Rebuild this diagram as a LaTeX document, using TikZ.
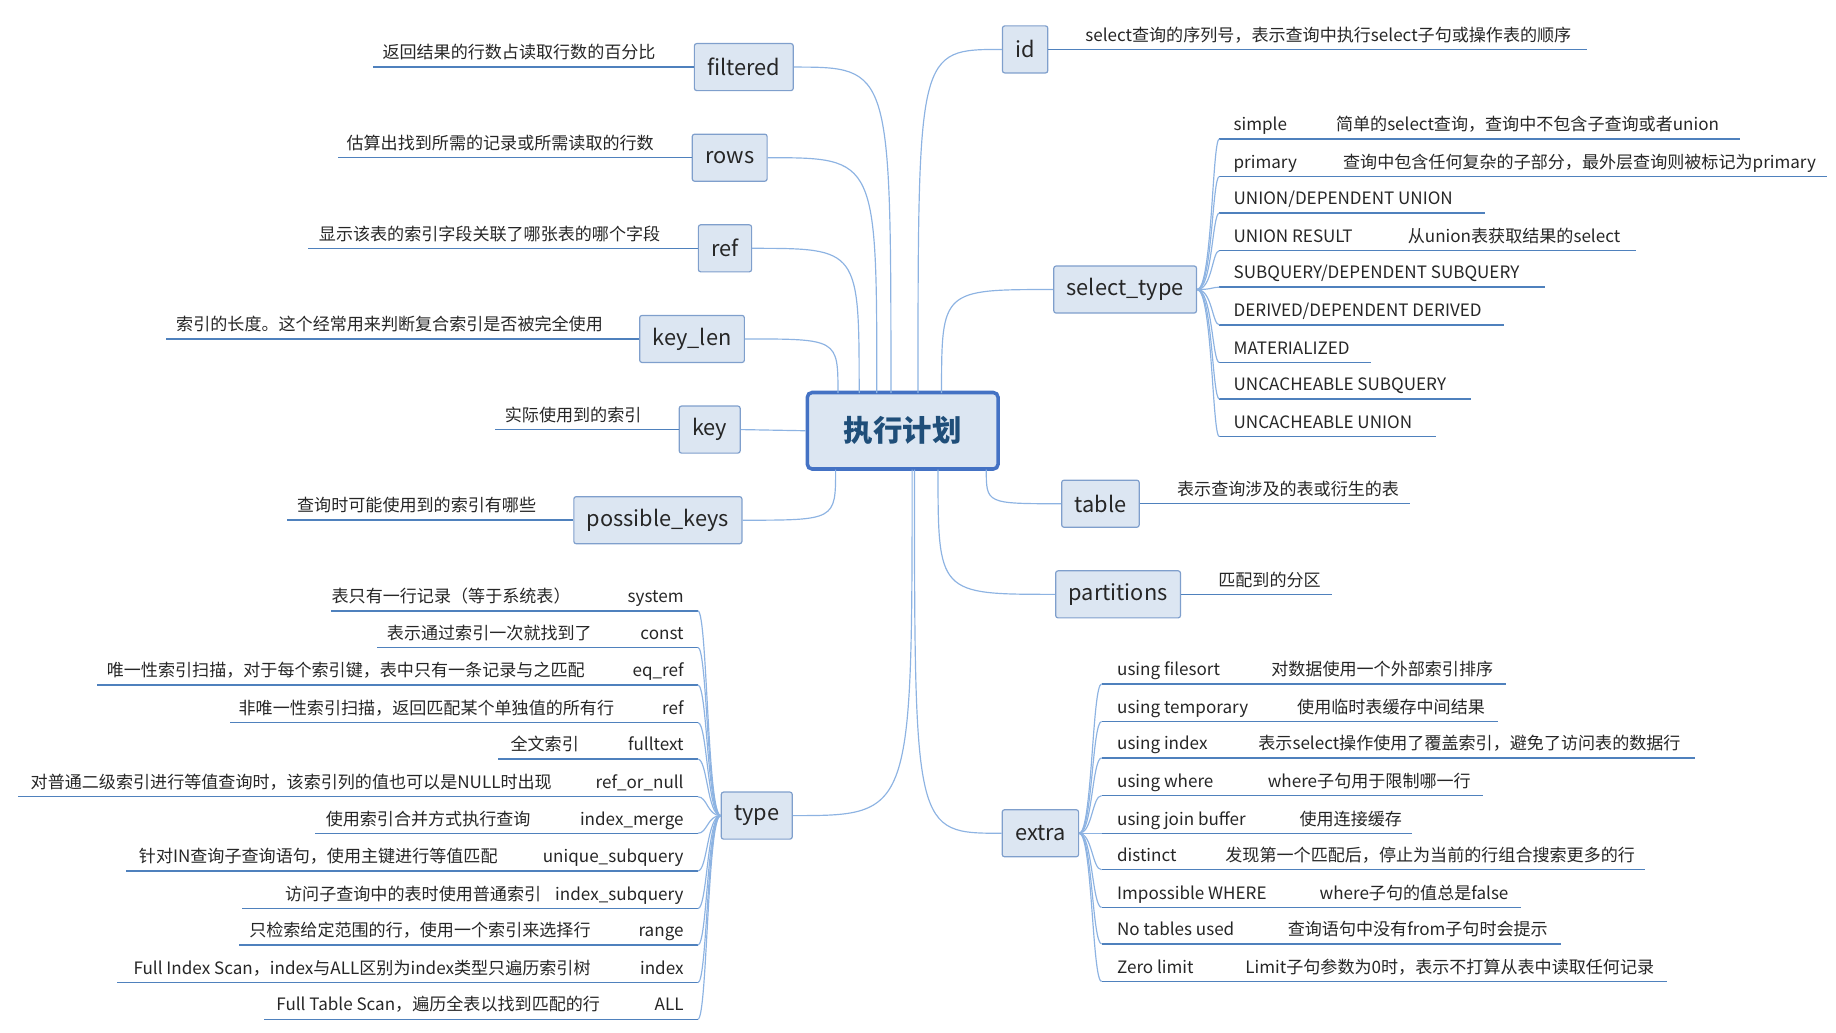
\documentclass[tikz,border=0pt]{standalone}
\usepackage{fontspec}
\setmainfont{Noto Sans CJK SC}
\definecolor{lineblue}{HTML}{4F81BD}
\definecolor{connblue}{HTML}{8DB3E2}
\definecolor{boxfill}{HTML}{DCE6F2}
\definecolor{boxdraw}{HTML}{7F9FCC}
\definecolor{rootdraw}{HTML}{4472C4}
\definecolor{roottext}{HTML}{1F4E79}
\tikzset{
  topic/.style={draw=boxdraw,fill=boxfill,rounded corners=2pt,line width=1pt,
    minimum height=40pt,inner xsep=11pt,font=\fontsize{18.5}{21}\selectfont,text=black!85},
  leaf/.style={font=\fontsize{14.5}{17}\selectfont,inner sep=0pt,text=black!85},
  uline/.style={draw=lineblue,line width=1.2pt},
  conn/.style={draw=connblue,line width=1pt}
}
\begin{document}
\begin{tikzpicture}[x=1pt,y=-1pt]
    \useasboundingbox (0,0) rectangle (1560,877);
    % Zentrum
    \node[topic,draw=rootdraw,line width=3pt,rounded corners=4pt,minimum width=162pt,minimum height=65pt,
      font=\fontsize{25}{29}\selectfont\bfseries,text=roottext] (root) at (767,366) {执行计划};
    % Hauptzweige links
    \node[topic] (filtered) at (632,57) {filtered};
    \node[topic] (rows) at (620,134) {rows};
    \node[topic] (ref) at (616,211) {ref};
    \node[topic] (keylen) at (588,288) {key\_len};
    \node[topic] (key) at (603,365) {key};
    \node[topic] (posskeys) at (559,442) {possible\_keys};
    \node[topic] (type) at (643,693) {type};
    % Hauptzweige rechts
    \node[topic] (id) at (871,42) {id};
    \node[topic] (seltype) at (956,246) {select\_type};
    \node[topic] (table) at (935,428) {table};
    \node[topic] (partitions) at (950,505) {partitions};
    \node[topic] (extra) at (884,708) {extra};
    % Startpunkte
    \coordinate (sFil) at (757,334);
    \coordinate (sRow) at (745,334);
    \coordinate (sRef) at (730,334);
    \coordinate (sKey) at (712,334);
    \coordinate (sPos) at (710,399);
    \coordinate (sTyp) at (775,399);
    \coordinate (sId) at (780,334);
    \coordinate (sSel) at (800,334);
    \coordinate (sTab) at (838,399);
    \coordinate (sPar) at (797,399);
    \coordinate (sExt) at (777,399);
    \foreach \s/\t in {sFil/filtered,sRow/rows,sRef/ref,sKey/keylen,sPos/posskeys,sTyp/type}
      \draw[conn] (\s) .. controls (\s |- \t.east) .. (\t.east);
    \foreach \s/\t in {sId/id,sSel/seltype,sTab/table,sPar/partitions,sExt/extra}
      \draw[conn] (\s) .. controls (\s |- \t.west) .. (\t.west);
    \draw[conn] (root.west) -- (key.east);
    % Beschreibungen
    \foreach \t/\x/\tx/\lbl in {filtered/317/441/返回结果的行数占读取行数的百分比,
        rows/287/425/估算出找到所需的记录或所需读取的行数,
        ref/262/416/显示该表的索引字段关联了哪张表的哪个字段,
        keylen/141/331/索引的长度。这个经常用来判断复合索引是否被完全使用,
        key/421/487/实际使用到的索引,
        posskeys/244/354/查询时可能使用到的索引有哪些}{
      \draw[uline] (\t.west) -- (\x,0 |- \t.west) coordinate (u\t);
      \node[leaf,anchor=base] (d\t) at ([yshift=7pt]\tx,0 |- \t.west) {\lbl};
    }
    \foreach \t/\x/\tx/\lbl in {id/1348/922/{select查询的序列号，表示查询中执行select子句或操作表的顺序},
        table/1198/1000/表示查询涉及的表或衍生的表,
        partitions/1132/1035/匹配到的分区}{
      \draw[uline] (\t.east) -- (\x,0 |- \t.east) coordinate (u\t);
      \node[leaf,anchor=base west] (d\t) at ([yshift=7pt]\tx,0 |- \t.east) {\lbl};
    }
    % select_type
    \foreach \i/\y/\nm/\ds/\dx/\ex in {1/118/simple/{简单的select查询，查询中不包含子查询或者union}/1135/1478,
        2/150/primary/{查询中包含任何复杂的子部分，最外层查询则被标记为primary}/1141/1552,
        3/181/{UNION/DEPENDENT UNION}/{}/1/1262,
        4/213/UNION RESULT/{从union表获取结果的select}/1196/1390,
        5/244/{SUBQUERY/DEPENDENT SUBQUERY}/{}/1/1313,
        6/276/{DERIVED/DEPENDENT DERIVED}/{}/1/1278,
        7/308/MATERIALIZED/{}/1/1165,
        8/339/UNCACHEABLE SUBQUERY/{}/1/1250,
        9/371/UNCACHEABLE UNION/{}/1/1220}{
      \coordinate (st\i) at (1036,\y);
      \draw[uline] (st\i) -- (\ex,\y);
      \draw[conn] (seltype.east) .. controls (1030,246) and (1030,\y) .. (st\i);
      \node[leaf,anchor=base west] (stn\i) at (1048,\y-7) {\nm};
      \node[leaf,anchor=base west] (std\i) at (\dx,\y-7) {\ds};
    }
    % extra
    \foreach \i/\y/\nm/\ds/\dx/\ex in {1/581/using filesort/对数据使用一个外部索引排序/1080/1280,
        2/613/using temporary/使用临时表缓存中间结果/1102/1273,
        3/644/using index/{表示select操作使用了覆盖索引，避免了访问表的数据行}/1069/1440,
        4/676/using where/where子句用于限制哪一行/1077/1260,
        5/708/using join buffer/使用连接缓存/1104/1200,
        6/739/distinct/{发现第一个匹配后，停止为当前的行组合搜索更多的行}/1041/1398,
        7/771/Impossible WHERE/where子句的值总是false/1121/1292,
        8/802/No tables used/查询语句中没有from子句时会提示/1094/1326,
        9/834/Zero limit/{Limit子句参数为0时，表示不打算从表中读取任何记录}/1058/1416}{
      \coordinate (ex\i) at (936,\y);
      \draw[uline] (ex\i) -- (\ex,\y);
      \draw[conn] (extra.east) .. controls (928,708) and (928,\y) .. (ex\i);
      \node[leaf,anchor=base west] (exn\i) at (949,\y-7) {\nm};
      \node[leaf,anchor=base west] (exd\i) at (\dx,\y-7) {\ds};
    }
    % type
    \foreach \i/\y/\nm/\ds/\dx/\ex in {1/519/system/{表只有一行记录（等于系统表）}/485/281,
        2/550/const/表示通过索引一次就找到了/503/320,
        3/582/eq\_ref/{唯一性索引扫描，对于每个索引键，表中只有一条记录与之匹配}/497/82,
        4/614/ref/{非唯一性索引扫描，返回匹配某个单独值的所有行}/522/195,
        5/645/fulltext/全文索引/492/423,
        6/677/ref\_or\_null/{对普通二级索引进行等值查询时，该索引列的值也可以是NULL时出现}/469/15,
        7/708/index\_merge/使用索引合并方式执行查询/451/268,
        8/740/unique\_subquery/{针对IN查询子查询语句，使用主键进行等值匹配}/423/107,
        9/772/index\_subquery/访问子查询中的表时使用普通索引/460/206,
        10/803/range/{只检索给定范围的行，使用一个索引来选择行}/502/203,
        11/835/index/{Full Index Scan，index与ALL区别为index类型只遍历索引树}/502/99,
        12/866/ALL/{Full Table Scan，遍历全表以找到匹配的行}/510/224}{
      \coordinate (ty\i) at (593,\y);
      \draw[uline] (ty\i) -- (\ex,\y);
      \draw[conn] (type.west) .. controls (601,693) and (601,\y) .. (ty\i);
      \node[leaf,anchor=base east] (tyn\i) at (581,\y-7) {\nm};
      \node[leaf,anchor=base east] (tyd\i) at (\dx,\y-7) {\ds};
    }
\end{tikzpicture}
\end{document}
